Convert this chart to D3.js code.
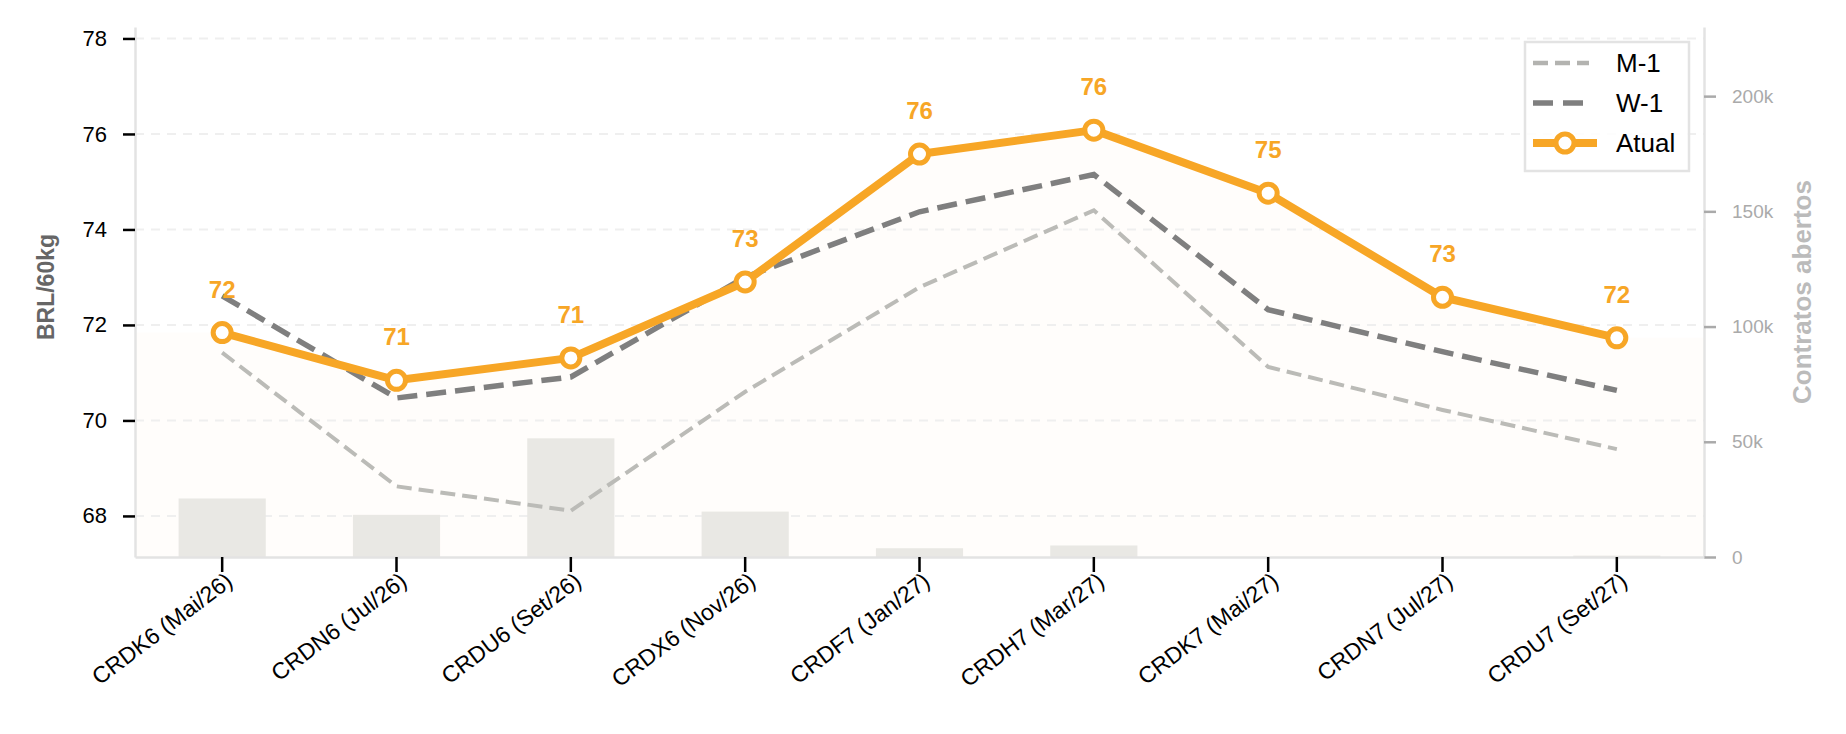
<!DOCTYPE html>
<html>
<head>
<meta charset="utf-8">
<script src="https://cdn.jsdelivr.net/npm/d3@7"></script>
<style>
body { margin: 0; background: #fff; }
text { font-family: "Liberation Sans", Arial, sans-serif; }
</style>
</head>
<body>
<div id="chart"></div>
<script>

// contracts (x axis)
var contracts = ["CRDK6 (Mai/26)", "CRDN6 (Jul/26)", "CRDU6 (Set/26)", "CRDX6 (Nov/26)",
                 "CRDF7 (Jan/27)", "CRDH7 (Mar/27)", "CRDK7 (Mai/27)", "CRDN7 (Jul/27)", "CRDU7 (Set/27)"];

// price curves, BRL/60kg
var atual = [71.84, 70.84, 71.31, 72.90, 75.58, 76.08, 74.76, 72.58, 71.73];
var w1    = [72.61, 70.47, 70.91, 73.00, 74.37, 75.15, 72.32, 71.44, 70.63];
var m1    = [71.42, 68.62, 68.11, 70.60, 72.79, 74.40, 71.12, 70.22, 69.40];

// open interest (contratos abertos)
var openInterest = [25400, 18300, 51500, 19700, 3800, 5000, 0, 0, 600];

// ticks
var priceTicks = [68, 70, 72, 74, 76, 78];
var oiTicks = [0, 50000, 100000, 150000, 200000];
var priceDomain = [67.14, 78.24];
var oiDomain = [0, 230000];

var orange = "#f7a626";

// set the dimensions and margins of the graph
var margin = {top: 27, right: 142, bottom: 177, left: 135},
    width = 1846 - margin.left - margin.right,
    height = 734 - margin.top - margin.bottom;

var svg = d3.select("#chart").append("svg")
    .attr("width", width + margin.left + margin.right)
    .attr("height", height + margin.top + margin.bottom)
  .append("g")
    .attr("transform", "translate(" + margin.left + "," + margin.top + ")");

// scales
var x = d3.scaleBand().domain(contracts).range([0, width]).paddingInner(0.5).paddingOuter(0.25);
var y = d3.scaleLinear().domain(priceDomain).range([height, 0]);
var y2 = d3.scaleLinear().domain(oiDomain).range([height, 0]);
function cx(i) { return x(contracts[i]) + x.bandwidth() / 2; }

// faint fill under the current curve, carried flat to both edges
var last = atual.length - 1;
var areaPts = [[0, atual[0]]]
    .concat(atual.map(function(v, i) { return [cx(i), v]; }))
    .concat([[width, atual[last]]]);
svg.append("path")
    .datum(areaPts)
    .attr("d", d3.area().x(function(d) { return d[0]; }).y0(height).y1(function(d) { return y(d[1]); }))
    .style("fill", orange)
    .style("fill-opacity", 0.018);

// grid
svg.append("g").selectAll("line")
    .data(priceTicks)
  .enter().append("line")
    .attr("x1", 0).attr("x2", width)
    .attr("y1", function(d) { return y(d); })
    .attr("y2", function(d) { return y(d); })
    .style("stroke", "#efefef")
    .style("stroke-width", 2)
    .style("stroke-dasharray", "9,7");

// open interest bars
svg.append("g").selectAll("rect")
    .data(openInterest)
  .enter().append("rect")
    .attr("x", function(d, i) { return x(contracts[i]); })
    .attr("width", x.bandwidth())
    .attr("y", function(d) { return y2(d); })
    .attr("height", function(d) { return height - y2(d); })
    .style("fill", "#e9e8e4");

// lines
var valueline = d3.line()
    .x(function(d, i) { return cx(i); })
    .y(function(d) { return y(d); });

svg.append("path").datum(m1)
    .attr("d", valueline)
    .style("fill", "none").style("stroke", "#bbbbb7")
    .style("stroke-width", 4).style("stroke-dasharray", "15,7");

svg.append("path").datum(w1)
    .attr("d", valueline)
    .style("fill", "none").style("stroke", "#7f7f7f")
    .style("stroke-width", 5.5).style("stroke-dasharray", "20,9");

svg.append("path").datum(atual)
    .attr("d", valueline)
    .style("fill", "none").style("stroke", orange)
    .style("stroke-width", 8).style("stroke-linejoin", "round");

svg.append("g").selectAll("circle")
    .data(atual)
  .enter().append("circle")
    .attr("cx", function(d, i) { return cx(i); })
    .attr("cy", function(d) { return y(d); })
    .attr("r", 9)
    .style("fill", "#fff")
    .style("stroke", orange)
    .style("stroke-width", 5);

// value labels
svg.append("g").selectAll("text")
    .data(atual)
  .enter().append("text")
    .attr("x", function(d, i) { return cx(i); })
    .attr("y", function(d) { return y(d) - 35; })
    .style("text-anchor", "middle")
    .style("font-size", "24px")
    .style("font-weight", "bold")
    .style("fill", orange)
    .text(function(d) { return d3.format(".0f")(d); });

// Add the left Y axis
var yAxis = svg.append("g")
    .call(d3.axisLeft(y).tickValues(priceTicks).tickSize(12).tickSizeOuter(0).tickPadding(16));
yAxis.select(".domain").style("stroke", "#e3e3e3").style("stroke-width", 2.5);
yAxis.selectAll(".tick line").style("stroke", "#000").style("stroke-width", 2.5);
yAxis.selectAll(".tick text").style("font-size", "22px").style("fill", "#000");

// right axis (open interest)
var y2Axis = svg.append("g")
    .attr("transform", "translate(" + width + ",0)")
    .call(d3.axisRight(y2).tickValues(oiTicks).tickSize(12).tickSizeOuter(0).tickPadding(16)
      .tickFormat(function(d) { return d === 0 ? "0" : (d / 1000) + "k"; }));
y2Axis.select(".domain").style("stroke", "#e3e3e3").style("stroke-width", 2.5);
y2Axis.selectAll(".tick line").style("stroke", "#aaa").style("stroke-width", 2.5);
y2Axis.selectAll(".tick text").style("font-size", "19px").style("fill", "#aaa");

// Add the X axis
var xAxis = svg.append("g")
    .attr("transform", "translate(0," + height + ")")
    .call(d3.axisBottom(x).tickSize(15).tickSizeOuter(0));
xAxis.select(".domain").style("stroke", "#e3e3e3").style("stroke-width", 2.5);
xAxis.selectAll(".tick line").style("stroke", "#000").style("stroke-width", 2.5);
xAxis.selectAll(".tick text")
    .attr("x", 0).attr("y", 0).attr("dy", "0.72em")
    .attr("transform", "translate(2,14) rotate(-37)")
    .style("text-anchor", "end")
    .style("font-size", "23px")
    .style("fill", "#000");

// axis titles
svg.append("text")
    .attr("transform", "translate(" + (-81) + "," + (height / 2 - 5) + ") rotate(-90)")
    .style("text-anchor", "middle")
    .style("font-size", "23px").style("font-weight", "bold").style("fill", "#666")
    .text("BRL/60kg");

svg.append("text")
    .attr("transform", "translate(" + (width + 107) + "," + (height / 2) + ") rotate(-90)")
    .style("text-anchor", "middle")
    .style("font-size", "26px").style("font-weight", "bold").style("fill", "#bbb")
    .text("Contratos abertos");

// legend
var legendItems = [
  {name: "M-1", color: "#b3b3b0", width: 4.5, dash: "15,7", marker: false},
  {name: "W-1", color: "#7f7f7f", width: 5.5, dash: "20,10", marker: false},
  {name: "Atual", color: orange, width: 8, dash: null, marker: true}
];

var legend = svg.append("g")
    .attr("transform", "translate(" + (width - 179) + ",15)");

legend.append("rect")
    .attr("width", 164).attr("height", 129)
    .style("fill", "#fff").style("fill-opacity", 0.85)
    .style("stroke", "#e3e3e3").style("stroke-width", 2.5);

var entry = legend.selectAll(".legend")
    .data(legendItems)
  .enter().append("g")
    .attr("class", "legend")
    .attr("transform", function(d, i) { return "translate(0," + (21 + i * 40) + ")"; });

entry.append("line")
    .attr("x1", 8).attr("x2", function(d) { return d.marker ? 72 : 64; })
    .style("stroke", function(d) { return d.color; })
    .style("stroke-width", function(d) { return d.width; })
    .style("stroke-dasharray", function(d) { return d.dash; });

entry.filter(function(d) { return d.marker; }).append("circle")
    .attr("cx", 40).attr("r", 9)
    .style("fill", "#fff").style("stroke", function(d) { return d.color; }).style("stroke-width", 5);

entry.append("text")
    .attr("x", 91).attr("dy", "0.36em")
    .style("font-size", "26px")
    .style("fill", "#000")
    .text(function(d) { return d.name; });

</script>
</body>
</html>
